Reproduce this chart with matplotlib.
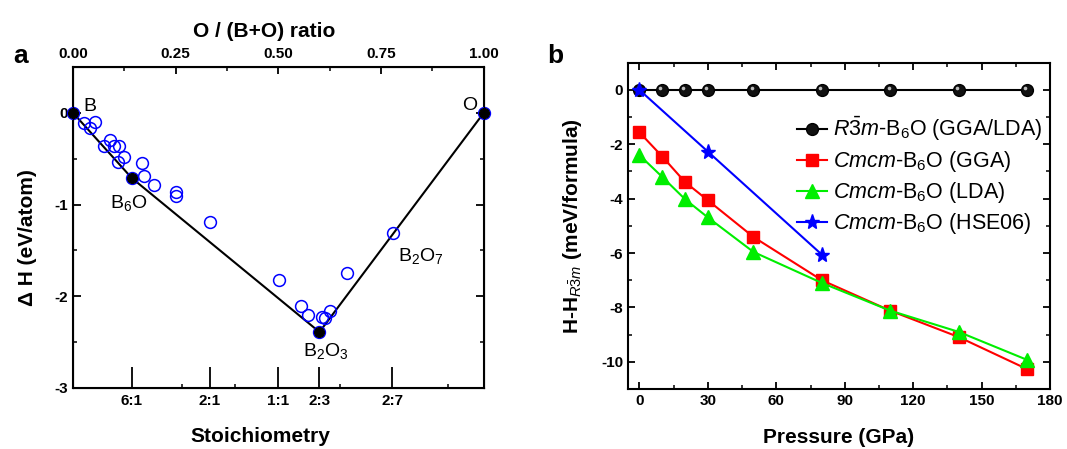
import matplotlib

matplotlib.use("Agg")
import matplotlib.pyplot as plt
import matplotlib.transforms as mtransforms
from matplotlib.ticker import FixedLocator, MultipleLocator, FormatStrFormatter

plt.rcParams["font.family"] = ["Liberation Sans", "DejaVu Sans"]
plt.rcParams["mathtext.fontset"] = "custom"
plt.rcParams["mathtext.rm"] = "Liberation Sans"
plt.rcParams["mathtext.it"] = "Liberation Sans:italic"
plt.rcParams["mathtext.bf"] = "Liberation Sans:bold"
plt.rcParams["axes.unicode_minus"] = False

# ---- panel a: formation enthalpy vs composition ----
hull_x = [0.0, 1 / 7, 0.6, 1.0]
hull_y = [0.0, -0.71, -2.39, 0.0]
hull_names = ["B", "B$_6$O", "B$_2$O$_3$", "O"]

cand_x = [0.0, 0.028, 0.041, 0.054, 0.076, 0.091, 0.101, 0.112, 0.125, 0.110,
          0.143, 0.167, 0.172, 0.198, 0.250, 0.251, 0.333, 0.501, 0.555, 0.571,
          0.600, 0.606, 0.614, 0.625, 0.667, 0.779, 1.0]
cand_y = [0.0, -0.116, -0.164, -0.102, -0.364, -0.298, -0.364, -0.364, -0.487, -0.535,
          -0.71, -0.545, -0.69, -0.785, -0.865, -0.909, -1.189, -1.825, -2.109, -2.20,
          -2.39, -2.225, -2.24, -2.164, -1.745, -1.309, 0.0]

stoich_pos = [1 / 7, 1 / 3, 1 / 2, 3 / 5, 7 / 9]
stoich_lbl = ["6:1", "2:1", "1:1", "2:3", "2:7"]
stoich_minor = [0.265, 0.394, 0.65, 0.913]

# ---- panel b: enthalpy difference vs pressure ----
p_r3m = [0, 10, 20, 30, 50, 80, 110, 140, 170]
h_r3m = [0, 0, 0, 0, 0, 0, 0, 0, 0]
p_gga = [0, 10, 20, 30, 50, 80, 110, 140, 170]
h_gga = [-1.56, -2.45, -3.39, -4.06, -5.41, -7.0, -8.12, -9.09, -10.27]
p_lda = [0, 10, 20, 30, 50, 80, 110, 140, 170]
h_lda = [-2.4, -3.2, -4.02, -4.69, -5.96, -7.1, -8.12, -8.9, -9.93]
p_hse = [0, 30, 80]
h_hse = [0, -2.27, -6.06]

fig = plt.figure(figsize=(10.67, 4.49), dpi=100)

# ================= panel a =================
ax = fig.add_axes([0.0684, 0.1359, 0.385, 0.715])
ax.plot(cand_x, cand_y, "o", mfc="none", mec="blue", mew=1.1, ms=8.5, clip_on=False, zorder=3)
ax.plot(hull_x, hull_y, "-", color="black", lw=1.5, zorder=2)
ax.plot(hull_x, hull_y, "o", color="black", ms=7, clip_on=False, zorder=4)

ax.set_xlim(0, 1)
ax.set_ylim(-3, 0.5)
ax.xaxis.set_major_locator(FixedLocator(stoich_pos))
ax.set_xticklabels(stoich_lbl)
ax.xaxis.set_minor_locator(FixedLocator(stoich_minor))
ax.yaxis.set_major_locator(FixedLocator([0, -1, -2, -3]))
ax.yaxis.set_major_formatter(FormatStrFormatter("%d"))
ax.yaxis.set_minor_locator(MultipleLocator(0.5))
ax.tick_params(axis="x", which="major", direction="in", length=15, width=1.3, top=False, labelsize=11, pad=4)
ax.tick_params(axis="x", which="minor", direction="in", length=3, width=1.1, top=False)
ax.tick_params(axis="y", which="major", direction="in", length=6, width=1.3, right=True, labelsize=11)
ax.tick_params(axis="y", which="minor", direction="in", length=3, width=1.1, right=True)
for lab in ax.get_xticklabels() + ax.get_yticklabels():
    lab.set_fontweight("bold")
for s in ax.spines.values():
    s.set_linewidth(1.5)

ax.set_xlabel("Stoichiometry", fontsize=15, fontweight="bold")
ax.xaxis.set_label_coords(0.457, -0.12)
ax.set_ylabel("\u0394 H (eV/atom)", fontsize=15, fontweight="bold")
ax.yaxis.set_label_coords(-0.088, 0.47)

top = ax.twiny()
top.set_xlim(0, 1)
top.xaxis.set_major_locator(MultipleLocator(0.25))
top.xaxis.set_minor_locator(MultipleLocator(0.125))
top.xaxis.set_major_formatter(FormatStrFormatter("%.2f"))
top.tick_params(axis="x", which="major", direction="in", length=5, width=1.3, labelsize=11, pad=4)
top.tick_params(axis="x", which="minor", direction="in", length=3, width=1.1)
for lab in top.get_xticklabels():
    lab.set_fontweight("bold")
top.set_xlabel("O / (B+O) ratio", fontsize=15, fontweight="bold")
top.xaxis.set_label_coords(0.465, 1.093)

ax.text(0.025, 0.07, hull_names[0], fontsize=14, ha="left", va="center")
ax.text(0.09, -0.98, hull_names[1], fontsize=14, ha="left", va="center")
ax.text(0.56, -2.6, hull_names[2], fontsize=14, ha="left", va="center")
ax.text(0.985, 0.08, hull_names[3], fontsize=14, ha="right", va="center")
ax.text(0.79, -1.56, "B$_2$O$_7$", fontsize=14, ha="left", va="center")

fig.text(0.012, 0.875, "a", fontsize=19, fontweight="bold", ha="left", va="center")

# ================= panel b =================
bx = fig.add_axes([0.5886, 0.1336, 0.3955, 0.7267])
bx.plot(p_r3m, h_r3m, "-o", color="black", mfc="#111111", mec="black", ms=8.5, lw=1.5,
        label=r"$R\bar{3}m$-B$_6$O (GGA/LDA)", zorder=3)
# small glossy highlight on the black spheres
shine = mtransforms.offset_copy(bx.transData, fig=fig, x=-1.3, y=1.3, units="points")
bx.plot(p_r3m, h_r3m, "o", color="#bdbdbd", ms=2.6, mew=0, transform=shine, zorder=3.5)
bx.plot(p_gga, h_gga, "-s", color="red", ms=8, lw=1.5, label=r"$Cmcm$-B$_6$O (GGA)")
bx.plot(p_lda, h_lda, "-^", color="#00ee00", ms=10, lw=1.5, label=r"$Cmcm$-B$_6$O (LDA)")
bx.plot(p_hse, h_hse, "-*", color="blue", ms=11, lw=1.5, label=r"$Cmcm$-B$_6$O (HSE06)", zorder=4)

bx.set_xlim(-5, 180)
bx.set_ylim(-11, 1)
bx.xaxis.set_major_locator(MultipleLocator(30))
bx.xaxis.set_minor_locator(MultipleLocator(15))
bx.yaxis.set_major_locator(MultipleLocator(2))
bx.yaxis.set_minor_locator(MultipleLocator(1))
bx.tick_params(which="major", direction="in", length=5, width=1.3, top=True, right=True, labelsize=11)
bx.tick_params(which="minor", direction="in", length=3, width=1.1, top=True, right=True)
for lab in bx.get_xticklabels() + bx.get_yticklabels():
    lab.set_fontweight("bold")
for s in bx.spines.values():
    s.set_linewidth(1.5)

bx.set_xlabel("Pressure (GPa)", fontsize=15, fontweight="bold")
bx.xaxis.set_label_coords(0.5, -0.12)
bx.set_ylabel(r"H-H$_{R\bar{3}m}$ (meV/formula)", fontsize=15, fontweight="bold")
bx.yaxis.set_label_coords(-0.105, 0.5)

bx.legend(loc="upper left", bbox_to_anchor=(0.40, 0.84), frameon=False, fontsize=15.5,
          handlelength=1.4, handletextpad=0.3, labelspacing=0.28, borderpad=0, borderaxespad=0)

fig.text(0.513, 0.875, "b", fontsize=19, fontweight="bold", ha="left", va="center")

fig.savefig("out.png", dpi=100)
